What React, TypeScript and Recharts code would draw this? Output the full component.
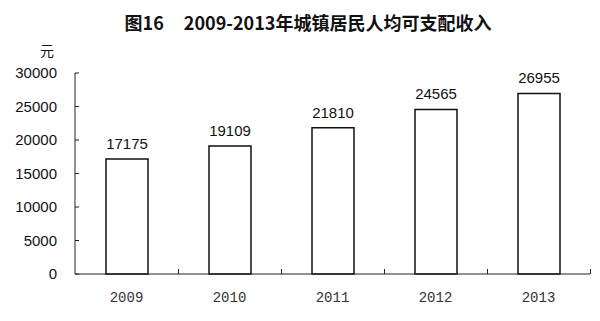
import React from 'react';
import { BarChart, Bar, XAxis, YAxis, LabelList } from 'recharts';

const years = ['2009', '2010', '2011', '2012', '2013'];
const income = [17175, 19109, 21810, 24565, 26955];
const yTicks = [0, 5000, 10000, 15000, 20000, 25000, 30000];

const data = years.map((y, i) => ({ year: y, value: income[i] }));

const LINE = '#222';
const X_LABEL_GAP = 18;
const CHART_W = 600;
const CHART_H = 321;
const MARGIN = { top: 73, right: 10, bottom: 17, left: 15 };
const Y_AXIS_W = 60;
const PLOT_W = CHART_W - MARGIN.left - MARGIN.right - Y_AXIS_W;

const YearTick = (props: any) => {
  const { x, y, payload } = props;
  const band = PLOT_W / years.length;
  const axisY = Number(y) - X_LABEL_GAP;
  const bx = Math.round(Number(x) + band / 2) + 0.5;
  return (
    <g>
      <path d={`M${bx},${axisY}V${axisY - 5}`} stroke={LINE} strokeWidth={1} fill="none" />
      <text
        x={x}
        y={y}
        dy="0.71em"
        textAnchor="middle"
        fill="#333"
        fontSize={14}
        fontFamily='"Liberation Mono", monospace'
      >
        {payload.value}
      </text>
    </g>
  );
};

export default function App() {
  return (
    <div style={{ position: 'absolute', left: 0, top: 0, width: CHART_W, height: CHART_H, background: '#fff' }}>
      <div
        style={{
          position: 'absolute',
          left: 8,
          width: 600,
          top: 9,
          textAlign: 'center',
          fontFamily: '"Noto Sans CJK SC", sans-serif',
          fontWeight: 'bold',
          fontSize: 18,
          lineHeight: '26px',
          whiteSpace: 'pre',
          color: '#111',
        }}
      >
        <span style={{ marginRight: 20 }}>图16</span>
        <span>2009-2013年城镇居民人均可支配收入</span>
      </div>
      <div
        style={{
          position: 'absolute',
          left: 40,
          top: 40,
          fontFamily: '"Noto Sans CJK SC", sans-serif',
          fontSize: 14,
          lineHeight: '20px',
          color: '#111',
        }}
      >
        元
      </div>
      <BarChart width={CHART_W} height={CHART_H} data={data} margin={MARGIN}>
        <XAxis
          dataKey="year"
          height={30}
          axisLine={{ stroke: LINE, strokeWidth: 1 }}
          tickLine={false}
          tickSize={0}
          tickMargin={X_LABEL_GAP}
          interval={0}
          tick={(p: any) => <YearTick {...p} />}
        />
        <YAxis
          width={Y_AXIS_W}
          domain={[0, 30000]}
          ticks={yTicks}
          interval={0}
          tickSize={-4}
          tickMargin={22}
          axisLine={{ stroke: LINE, strokeWidth: 1 }}
          tickLine={{ stroke: LINE, strokeWidth: 1 }}
          tick={{ fill: '#111', fontSize: 15, fontFamily: '"Liberation Sans", Arial, sans-serif' }}
        />
        <Bar
          dataKey="value"
          barSize={42}
          fill="#fff"
          stroke="#111"
          strokeWidth={1.5}
          isAnimationActive={false}
        >
          <LabelList
            dataKey="value"
            position="top"
            offset={10}
            fill="#111"
            fontSize={15}
            fontFamily='"Liberation Sans", Arial, sans-serif'
          />
        </Bar>
      </BarChart>
    </div>
  );
}
